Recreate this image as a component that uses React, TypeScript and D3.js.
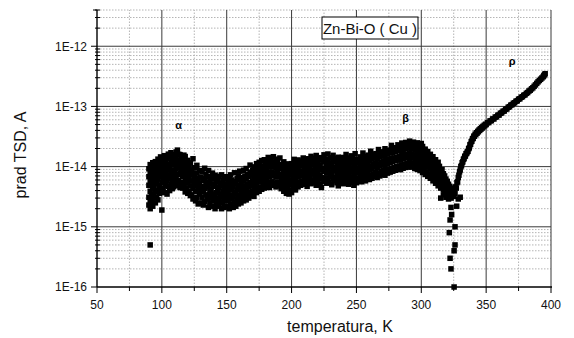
import { useEffect, useRef } from 'react'
import * as d3 from 'd3'

// current values are given in fA (1e-15 A)
type Band = [number, number[]][]

const FA = 1e-15

// low-temperature column + alpha peak
const alphaBand: Band = [
  [90, [2.3, 3.1, 4.9, 6.8, 9.2]],
  [91, [2.0, 2.7, 3.9, 5.8, 8.1, 10.8]],
  [92, [2.6, 3.5, 5.3, 7.6, 10.2]],
  [93, [2.2, 3.0, 4.4, 6.3, 8.7, 11.6]],
  [94, [3.4, 4.8, 7.1, 9.9]],
  [95, [2.5, 4.0, 5.7, 8.4, 12.1]],
  [96, [3.1, 5.2, 6.9, 10.7]],
  [97, [2.8, 3.9, 6.2, 9.0, 13.3]],
  [98, [3.6, 4.9, 7.8, 11.8]],
  [99, [4.4, 6.7, 9.8, 14.5]],
  [100, [1.9, 3.9, 5.4, 8.2, 12.0]],
  [101, [4.2, 5.9, 9.3, 12.8]],
  [102, [3.7, 6.8, 10.6, 15.2]],
  [103, [4.9, 7.8, 11.9]],
  [104, [3.5, 5.8, 8.9, 13.8]],
  [105, [4.7, 7.3, 10.9, 16.1]],
  [106, [4.0, 6.3, 9.7, 14.4]],
  [107, [5.1, 8.3, 11.7, 17.0]],
  [108, [4.3, 5.9, 8.8, 13.1]],
  [109, [4.6, 6.9, 10.7, 15.8]],
  [110, [5.3, 7.7, 11.8, 14.9]],
  [111, [4.8, 6.4, 9.3, 13.6, 17.5]],
  [112, [5.0, 7.4, 10.8, 18.8]],
  [113, [5.9, 9.7, 12.8, 16.0]],
  [114, [4.5, 7.8, 11.6, 15.8]],
  [115, [5.4, 8.8, 13.8]],
  [116, [4.4, 6.8, 10.2, 12.6]],
  [117, [4.9, 7.7, 11.8, 15.5]],
  [118, [3.8, 5.9, 9.2, 14.7]],
  [119, [4.3, 6.9, 10.6]],
  [120, [3.6, 5.3, 8.3, 12.7]],
  [121, [3.9, 6.2, 9.7]],
  [122, [3.3, 4.8, 7.3, 11.5]],
  [123, [3.4, 5.8, 8.8]],
  [124, [2.9, 4.3, 7.8, 13.5]],
  [125, [3.0, 5.2, 6.9, 9.6]],
  [126, [2.7, 3.9, 6.3]],
  [127, [3.1, 4.8, 7.8, 10.5]],
  [128, [2.4, 4.4, 6.4]],
  [129, [3.5, 5.3, 8.6]],
  [130, [2.5, 4.0, 6.7]],
]

const valleyBand: Band = [
  [131, [3.1, 4.7, 8.2]], [132, [2.3, 3.8, 5.9]], [133, [2.6, 4.3, 6.3, 9.4]],
  [134, [3.4, 5.2, 7.5]], [135, [2.9, 4.6, 6.8]], [136, [2.1, 3.3, 5.4, 8.6]],
  [137, [2.5, 3.9, 5.8]], [138, [3.0, 4.2, 6.7]], [139, [2.2, 3.5, 5.1, 7.8]],
  [140, [2.7, 4.7, 6.2]], [141, [2.0, 3.2, 4.9, 7.2]], [142, [2.4, 3.7, 5.6]],
  [143, [2.8, 4.1, 6.4]], [144, [2.2, 3.0, 4.5, 6.9]], [145, [2.6, 3.5, 5.3]],
  [146, [2.0, 3.2, 4.8, 7.3]], [147, [2.5, 3.9, 5.9]], [148, [2.1, 2.9, 4.3, 6.2]],
  [149, [2.7, 3.6, 5.0]], [150, [2.2, 3.3, 4.6, 6.8]], [151, [2.8, 3.9, 5.5]],
  [152, [2.0, 3.0, 4.2, 6.4]], [153, [2.4, 3.4, 5.1, 7.3]], [154, [2.9, 4.4, 6.0]],
  [155, [2.1, 3.2, 4.7]], [156, [2.6, 3.8, 5.6, 7.9]], [157, [2.2, 3.5, 5.2]],
  [158, [2.8, 4.1, 6.3]], [159, [2.4, 3.3, 4.9, 7.0]], [160, [2.9, 4.3, 6.1, 8.4]],
  [161, [2.5, 3.7, 5.5]], [162, [3.1, 4.5, 6.6]], [163, [2.7, 3.9, 5.8, 8.7]],
  [164, [3.2, 4.8, 7.0]], [165, [2.8, 4.2, 6.2, 9.3]], [166, [3.5, 5.1, 7.4]],
  [167, [3.0, 4.6, 6.9]], [168, [3.8, 5.5, 8.1, 10.6]], [169, [3.3, 4.9, 7.2]],
  [170, [3.9, 5.8, 8.6]], [171, [3.2, 4.7, 6.7, 9.9]], [172, [4.1, 6.2, 8.9]],
  [173, [3.7, 5.3, 7.6, 11.2]], [174, [4.4, 6.4, 9.2]], [175, [3.9, 5.7, 8.2, 11.8]],
  [176, [4.6, 6.9, 9.8]], [177, [4.2, 6.1, 8.7, 12.6]], [178, [5.0, 7.3, 10.3]],
  [179, [4.4, 6.3, 9.0, 13.0]], [180, [5.2, 7.7, 10.9]], [181, [4.7, 6.6, 9.5]],
  [182, [5.4, 8.0, 11.6, 14.2]], [183, [4.5, 6.8, 9.9]], [184, [5.1, 7.4, 10.8, 13.5]],
  [185, [5.6, 8.2, 11.9]], [186, [4.9, 7.0, 10.1, 14.6]], [187, [5.3, 7.8, 11.3]],
  [188, [4.6, 6.7, 9.6, 13.3]], [189, [5.5, 8.4, 12.2]], [190, [4.8, 6.9, 10.0]],
  [191, [5.2, 7.5, 10.9, 13.9]], [192, [4.3, 6.3, 9.2]], [193, [4.9, 7.1, 10.3]],
  [194, [3.9, 5.8, 8.5, 12.0]], [195, [4.5, 6.6, 9.6]], [196, [3.6, 5.4, 8.0, 11.1]],
  [197, [4.2, 6.3, 9.1]], [198, [3.5, 5.0, 7.4, 10.4]], [199, [4.0, 6.0, 8.6]],
  [200, [3.7, 5.4, 7.9, 11.2]], [201, [4.4, 6.5, 9.4]], [202, [4.9, 7.2, 10.5, 13.2]],
  [203, [4.1, 6.1, 8.8]], [204, [5.2, 7.6, 11.0]], [205, [4.6, 6.7, 9.7, 12.9]],
  [206, [5.5, 8.1, 11.4]],
]

const plateauBand: Band = [
  [207, [4.9, 7.1, 10.2]], [208, [5.8, 8.4, 12.3]], [209, [5.1, 7.4, 10.6, 13.9]],
  [210, [6.1, 8.9, 12.0]], [211, [5.3, 7.7, 11.1]], [212, [4.7, 6.6, 9.6, 13.5]],
  [213, [5.6, 8.0, 11.6]], [214, [6.4, 9.3, 13.1]], [215, [5.2, 7.5, 10.8, 14.8]],
  [216, [6.0, 8.7, 12.4]], [217, [5.4, 7.9, 11.3]], [218, [6.6, 9.5, 13.8]],
  [219, [4.9, 7.2, 10.4, 15.3]], [220, [5.9, 8.6, 12.1]], [221, [6.7, 9.7, 13.4]],
  [222, [5.1, 7.3, 10.6]], [223, [4.5, 6.5, 9.4, 14.1]], [224, [6.2, 9.0, 12.8]],
  [225, [5.7, 8.3, 11.9, 15.7]], [226, [6.5, 9.4, 13.2]], [227, [5.3, 7.8, 11.2]],
  [228, [6.0, 8.8, 12.6, 16.2]], [229, [5.5, 8.0, 11.5]], [230, [6.8, 9.8, 14.0]],
  [231, [5.0, 7.4, 10.7]], [232, [6.3, 9.1, 12.9, 15.4]], [233, [5.8, 8.5, 12.2]],
  [234, [6.6, 9.6, 13.7]], [235, [5.4, 7.9, 11.3]], [236, [4.8, 7.0, 10.1, 14.3]],
  [237, [6.1, 8.9, 12.7]], [238, [5.6, 8.2, 11.8]], [239, [6.9, 9.9, 14.2]],
  [240, [5.2, 7.6, 11.0]], [241, [6.4, 9.2, 13.1]], [242, [5.7, 8.3, 12.0, 15.9]],
  [243, [6.8, 9.8, 13.9]], [244, [5.1, 7.5, 10.8]], [245, [6.2, 9.0, 12.8]],
  [246, [5.5, 8.1, 11.6, 15.1]], [247, [6.6, 9.5, 13.5]], [248, [4.9, 7.2, 10.4]],
  [249, [6.0, 8.7, 12.4, 16.4]], [250, [5.4, 7.9, 11.4]], [251, [6.5, 9.4, 13.3]],
  [252, [5.9, 8.6, 12.3]], [253, [7.0, 10.1, 14.5]], [254, [5.6, 8.2, 11.7]],
  [255, [6.3, 9.1, 13.0, 16.8]], [256, [7.2, 10.4, 14.8]], [257, [5.8, 8.5, 12.1]],
  [258, [6.7, 9.7, 13.8]], [259, [7.5, 10.8, 15.5]], [260, [6.1, 8.9, 12.7]],
  [261, [7.1, 10.2, 14.6, 18.0]], [262, [6.4, 9.3, 13.3]], [263, [7.6, 11.0, 15.7]],
  [264, [6.9, 10.0, 14.2]], [265, [8.0, 11.5, 16.4]], [266, [6.6, 9.6, 13.7]],
  [267, [7.7, 11.1, 15.9, 19.2]], [268, [7.0, 10.2, 14.5]], [269, [8.3, 11.9, 17.0]],
  [270, [7.4, 10.7, 15.3]], [271, [8.6, 12.4, 17.6]], [272, [7.2, 10.4, 14.9, 19.8]],
  [273, [8.8, 12.7, 18.1]], [274, [7.8, 11.3, 16.1]], [275, [9.1, 13.1, 18.7]],
  [276, [8.1, 11.7, 16.8]], [277, [9.4, 13.6, 19.4, 22.5]], [278, [8.4, 12.1, 17.3]],
  [279, [9.7, 14.0, 20.0]], [280, [8.7, 12.6, 18.0]], [281, [10.0, 14.4, 20.6]],
]

// beta peak and the fall towards the minimum near 325 K
const betaBand: Band = [
  [282, [9.1, 13.0, 18.6, 23.0]], [283, [10.3, 14.8, 21.1]], [284, [8.9, 12.8, 18.3]],
  [285, [10.6, 15.2, 21.8, 24.6]], [286, [9.4, 13.5, 19.3]], [287, [11.0, 15.8, 22.4]],
  [288, [9.7, 13.9, 19.9, 25.2]], [289, [11.3, 16.2, 23.1]], [290, [10.0, 14.3, 20.5]],
  [291, [11.6, 16.7, 23.8, 26.5]], [292, [9.8, 14.1, 20.2]], [293, [11.2, 16.0, 22.9]],
  [294, [10.2, 14.6, 20.9, 25.5]], [295, [9.3, 13.4, 19.1]], [296, [10.8, 15.5, 22.2]],
  [297, [9.0, 13.0, 18.6, 24.8]], [298, [10.4, 14.9, 21.3]], [299, [8.6, 12.3, 17.6, 23.5]],
  [300, [9.6, 13.8, 19.7, 24.2]], [301, [8.0, 11.5, 16.4, 21.6]], [302, [8.9, 12.8, 18.2]],
  [303, [7.4, 10.6, 15.1, 19.5]], [304, [8.2, 11.7, 16.7]], [305, [6.9, 9.9, 14.1, 17.8]],
  [306, [7.6, 10.9, 15.4]], [307, [6.4, 9.2, 13.0, 16.0]], [308, [7.0, 10.0, 14.2]],
  [309, [5.8, 8.3, 11.8, 14.6]], [310, [6.4, 9.1, 12.8]], [311, [5.3, 7.5, 10.6, 13.0]],
  [312, [5.8, 8.2, 11.4]], [313, [4.8, 6.8, 9.5, 11.8]], [314, [5.2, 7.3, 10.1]],
  [315, [3.0, 4.4, 6.1, 8.5]], [316, [4.7, 6.5, 8.9]], [317, [3.4, 4.2, 5.8, 7.6]],
  [318, [3.9, 5.3, 7.0]], [319, [3.1, 3.8, 5.0, 6.2]], [320, [3.5, 4.6, 5.7]],
  [321, [2.9, 3.4, 4.3, 5.1]], [322, [3.1, 3.9, 4.7]], [323, [3.0, 3.6, 4.4]],
]

const dropPoints: [number, number][] = [
  [91, 0.5],
  [322.9, 2.1], [327.3, 2.2], [322.2, 1.3], [326, 1.0], [323.4, 1.6],
  [321.6, 0.8], [326, 0.5], [325.3, 0.4], [322.2, 0.3], [322.9, 0.2],
  [325.3, 0.1], [330, 3.1], [328.5, 2.9],
]

// steep rise (rho branch)
const rhoBranch: [number, number][] = [
  [325, 3.2], [325.5, 4.0], [326, 3.6], [326.5, 4.6], [327, 4.4], [327.5, 5.4],
  [328, 5.6], [328.5, 6.6], [329, 7.2], [329.5, 8.2], [330, 8.8], [330.5, 10],
  [331, 10.4], [331.5, 11.6], [332, 12], [332.5, 13.2], [333, 13.6], [333.5, 14.8],
  [334, 15], [334.5, 16.4], [335, 16.6], [335.5, 17.6], [336, 18], [336.5, 19.8],
  [337, 20.5], [337.5, 23], [338, 23.5], [338.5, 26], [339, 26.5], [339.5, 29],
  [340, 29.5], [340.5, 32], [341, 32], [341.5, 34.5], [342, 34], [342.5, 36.5],
  [343, 36], [343.5, 38.5], [344, 38], [344.5, 40.5], [345, 40], [345.5, 42.5],
  [346, 42], [346.5, 44.5], [347, 44], [347.5, 46.5], [348, 46], [348.5, 48.5],
  [349, 48], [349.5, 50.5], [350, 50], [351, 53.5], [352, 54], [353, 57.5],
  [354, 58], [355, 62], [356, 62], [357, 66.5], [358, 67], [359, 71.5],
  [360, 72], [361, 77], [362, 78], [363, 83], [364, 84], [365, 89.5],
  [366, 91], [367, 97], [368, 99], [369, 105], [370, 107], [371, 113],
  [372, 115], [373, 122], [374, 124], [375, 132], [376, 134], [377, 142],
  [378, 145], [379, 153], [380, 156], [381, 165], [382, 170], [383, 180],
  [384, 186], [385, 196], [386, 204], [387, 216], [388, 228], [389, 242],
  [390, 256], [391, 270], [392, 283], [393, 297], [394, 312], [394.5, 325],
  [395, 338], [395.5, 350],
]

const xMajor = [100, 150, 200, 250, 300, 350, 400]
const xMinor = [75, 125, 175, 225, 275, 325, 375]
const xLabels = [50, 100, 150, 200, 250, 300, 350, 400]
const yDecades = [1e-16, 1e-15, 1e-14, 1e-13, 1e-12]
const yLabels = ['1E-16', '1E-15', '1E-14', '1E-13', '1E-12']
const peakLabels: [string, number, number][] = [
  ['α', 113, 4.2e-14],
  ['β', 288, 5.5e-14],
  ['ρ', 370, 4.9e-13],
]

const FONT = "'Liberation Sans', Arial, sans-serif"

export default function App() {
  const ref = useRef<SVGSVGElement>(null)

  useEffect(() => {
    document.body.style.margin = '0'
    if (!ref.current) return
    const svg = d3.select(ref.current)
    svg.selectAll('*').remove()

    const x = d3.scaleLinear().domain([50, 400]).range([97, 551])
    const y = d3.scaleLog().domain([1e-16, 4e-12]).range([287, 10])
    const [x0, x1] = x.range()
    const [yb, yt] = y.range()

    // minor grid
    const yMinor: number[] = []
    yDecades.forEach(d => { for (let k = 2; k <= 9; k++) if (k * d <= 4e-12) yMinor.push(k * d) })

    const grid = svg.append('g')
    grid.selectAll('line.ym').data(yMinor).enter().append('line')
      .attr('x1', x0).attr('x2', x1)
      .attr('y1', d => y(d)).attr('y2', d => y(d))
      .attr('stroke', '#b4b4b4').attr('stroke-dasharray', '1.5,1.5')
    grid.selectAll('line.xm').data(xMinor).enter().append('line')
      .attr('x1', d => x(d)).attr('x2', d => x(d))
      .attr('y1', yb).attr('y2', yt)
      .attr('stroke', '#b4b4b4').attr('stroke-dasharray', '1.5,1.5')

    // major grid
    grid.selectAll('line.yM').data(yDecades.slice(1)).enter().append('line')
      .attr('x1', x0).attr('x2', x1)
      .attr('y1', d => y(d)).attr('y2', d => y(d))
      .attr('stroke', '#3a3a3a')
    grid.selectAll('line.xM').data(xMajor).enter().append('line')
      .attr('x1', d => x(d)).attr('x2', d => x(d))
      .attr('y1', yb).attr('y2', yt)
      .attr('stroke', '#3a3a3a')

    // points
    const flat = (b: Band) => b.flatMap(([t, vs]) => vs.map(v => [t, v] as [number, number]))
    const pts = [
      ...flat(alphaBand), ...flat(valleyBand), ...flat(plateauBand), ...flat(betaBand),
      ...dropPoints, ...rhoBranch,
    ]
    const s = 5.5
    svg.append('g').selectAll('rect').data(pts).enter().append('rect')
      .attr('x', d => x(d[0]) - s / 2).attr('y', d => y(d[1] * FA) - s / 2)
      .attr('width', s).attr('height', s).attr('fill', '#000')

    // axes
    const ax = svg.append('g').attr('stroke', '#000')
    ax.append('line').attr('x1', x0).attr('x2', x0).attr('y1', yb).attr('y2', yt).attr('stroke-width', 1.4)
    ax.append('line').attr('x1', x0).attr('x2', x1 + 1).attr('y1', yb).attr('y2', yb).attr('stroke-width', 1.4)
    ax.selectAll('line.xt').data(xLabels).enter().append('line')
      .attr('x1', d => x(d)).attr('x2', d => x(d)).attr('y1', yb).attr('y2', yb + 6)
    ax.selectAll('line.xmt').data(xMinor).enter().append('line')
      .attr('x1', d => x(d)).attr('x2', d => x(d)).attr('y1', yb).attr('y2', yb + 4)
    ax.selectAll('line.yt').data(yDecades).enter().append('line')
      .attr('x1', x0 - 6).attr('x2', x0).attr('y1', d => y(d)).attr('y2', d => y(d))
    ax.selectAll('line.ymt').data(yMinor).enter().append('line')
      .attr('x1', x0 - 2).attr('x2', x0 + 3).attr('y1', d => y(d)).attr('y2', d => y(d))
    ax.append('line').attr('x1', x0 - 4).attr('x2', x0).attr('y1', yt).attr('y2', yt)

    // tick labels
    svg.append('g').selectAll('text').data(xLabels).enter().append('text')
      .attr('x', d => x(d)).attr('y', 309)
      .attr('text-anchor', 'middle').attr('font-size', 12).attr('font-family', FONT)
      .attr('fill', '#111').text(d => d)
    svg.append('g').selectAll('text').data(yDecades).enter().append('text')
      .attr('x', 87).attr('y', d => y(d) + 4.3)
      .attr('text-anchor', 'end').attr('font-size', 12).attr('font-family', FONT)
      .attr('fill', '#111').text((_, i) => yLabels[i])

    // axis titles
    svg.append('text')
      .attr('x', 340).attr('y', 332)
      .attr('text-anchor', 'middle').attr('font-size', 16).attr('font-family', FONT)
      .attr('fill', '#111').text('temperatura, K')
    svg.append('text')
      .attr('transform', 'translate(26,155) rotate(-90)')
      .attr('text-anchor', 'middle').attr('font-size', 16).attr('font-family', FONT)
      .attr('fill', '#111').text('prad TSD, A')

    // peak labels
    svg.append('g').selectAll('text').data(peakLabels).enter().append('text')
      .attr('x', d => x(d[1])).attr('y', d => y(d[2]))
      .attr('text-anchor', 'middle').attr('font-size', 11).attr('font-weight', 'bold')
      .attr('font-family', FONT).attr('fill', '#000').text(d => d[0])

    // legend box
    svg.append('rect')
      .attr('x', 322).attr('y', 17).attr('width', 96).attr('height', 22)
      .attr('fill', '#fff').attr('stroke', '#000')
    svg.append('text')
      .attr('x', 370).attr('y', 33.5)
      .attr('text-anchor', 'middle').attr('font-size', 15).attr('font-family', FONT)
      .attr('fill', '#111').text('Zn-Bi-O ( Cu )')
  }, [])

  return <svg ref={ref} width={574} height={338} style={{ display: 'block', background: '#fff' }} />
}
